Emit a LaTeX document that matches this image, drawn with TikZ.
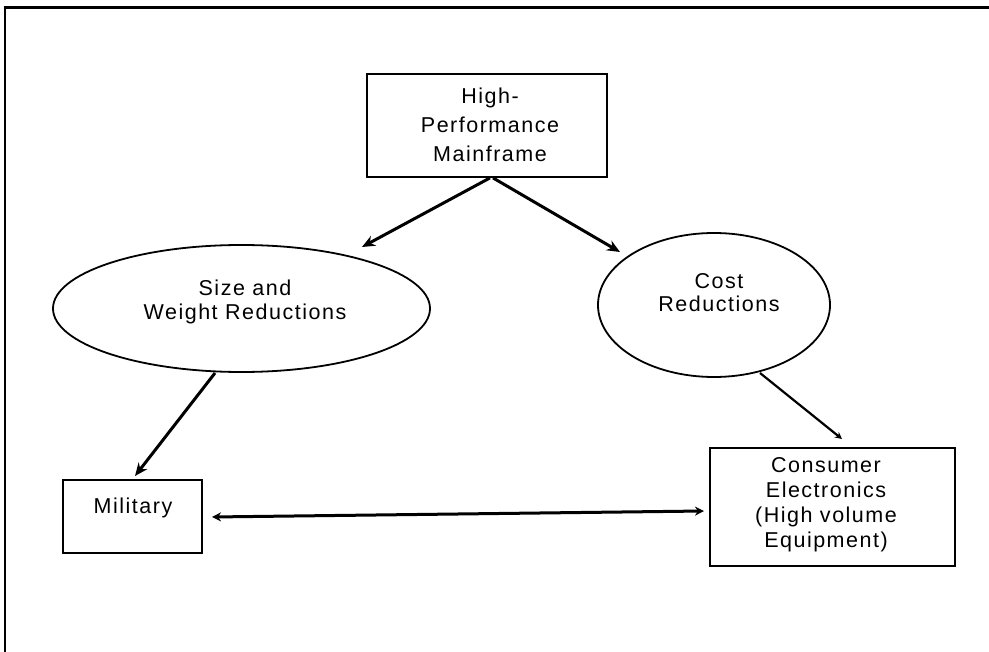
\documentclass[tikz,border=0pt]{standalone}
\usepackage{fontspec}
\setmainfont{Liberation Sans}[LetterSpace=7]
\usetikzlibrary{shapes.geometric,arrows.meta}
\begin{document}
\begin{tikzpicture}[x=1pt,y=-1pt,
  txt/.style={font=\fontsize{21.5}{25}\selectfont, align=center, inner sep=0pt},
  boxnode/.style={draw, line width=1.8pt, rectangle, inner sep=0pt},
  ellnode/.style={draw, line width=1.8pt, ellipse, inner sep=0pt},
  conn/.style={line width=3pt, -{Stealth[length=13pt,width=11pt]}},
  thinconn/.style={line width=2.2pt, -{Stealth[length=7pt,width=7pt]}},
  dbl/.style={line width=3pt, {Stealth[length=9pt,width=9pt]}-{Stealth[length=9pt,width=9pt]}},
]
\useasboundingbox (0,0) rectangle (989,652);
% frame (top and left only)
\draw[line width=3pt] (3.5,8) -- (989,8);
\draw[line width=2.5pt] (5,6.5) -- (5,652);

% shapes
\node[boxnode, minimum width=240pt, minimum height=103pt] (top) at (487,125.5) {};
\node[ellnode, minimum width=377pt, minimum height=127pt] (size) at (241.5,308.5) {};
\node[ellnode, minimum width=232pt, minimum height=144pt] (cost) at (714,305) {};
\node[boxnode, minimum width=139pt, minimum height=73pt] (mil) at (132.5,516.5) {};
\node[boxnode, minimum width=245pt, minimum height=118pt] (cons) at (832.5,507) {};

% texts
\node[txt, font=\fontsize{21.5}{29}\selectfont] (topT) at (490,125) {High-\\Performance\\Mainframe};
\node[txt, font=\fontsize{21.5}{24}\selectfont] (sizeT) at (245,302) {Size and\\Weight Reductions};
\node[txt, font=\fontsize{21.5}{23}\selectfont] (costT) at (719,293) {Cost\\Reductions};
\node[txt] (milT) at (133,508) {Military};
\node[txt] (consT) at (826,505) {Consumer\\Electronics\\(High volume\\Equipment)};

% connector end points
\coordinate (t1) at (362,247);
\coordinate (t2) at (620,252);
\coordinate (t3) at (135,476);
\coordinate (t4) at (842,439);
\coordinate (s3) at (215,373);
\coordinate (s4) at (760,373);
\coordinate (d1) at (212,517);
\coordinate (d2) at (704,511);

\draw[conn] ([xshift=3pt]top.south) -- (t1);
\draw[conn] ([xshift=6pt]top.south) -- (t2);
\draw[conn] (s3) -- (t3);
\draw[thinconn] (s4) -- (t4);
\draw[dbl] (d1) -- (d2);
\end{tikzpicture}
\end{document}
